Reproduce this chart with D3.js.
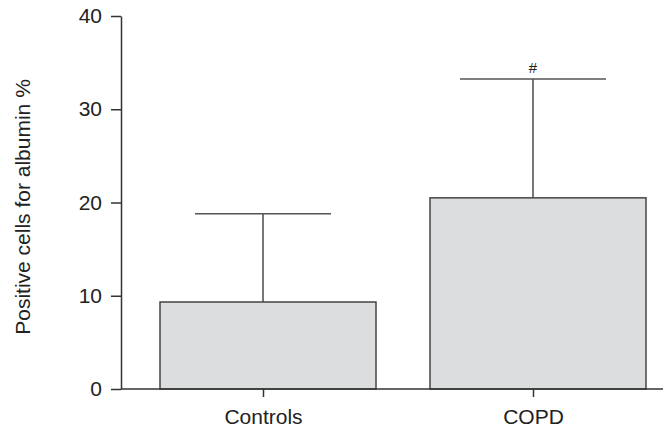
<!DOCTYPE html>
<html><head><meta charset="utf-8">
<script src="https://cdn.jsdelivr.net/npm/d3@7"></script>
<style>body{margin:0;background:#fff}svg{display:block}</style>
</head><body>
<svg id="c" width="668" height="428"></svg>
<script>
const categories = ["Controls", "COPD"];
const means = [9.33, 20.5];
const errTops = [18.8, 33.25];
const errHalfCaps = [68, 73];
const marks = ["", "#"];
const yTicks = [0, 10, 20, 30, 40];

const svg = d3.select("#c");
const font = "Liberation Sans, Arial, sans-serif";
const y = d3.scaleLinear().domain([0, 40]).range([389, 16]);
const x = d3.scalePoint().domain(categories).range([128, 668]).padding(0.5);
const axisX0 = 121, axisX1 = 663;

const g = svg.append("g");
categories.forEach((c, i) => {
  const cx = x(c);
  g.append("line").attr("x1", cx).attr("x2", cx).attr("y1", y(means[i])).attr("y2", y(errTops[i]))
    .attr("stroke", "#555").attr("stroke-width", 1.6);
  g.append("line").attr("x1", cx - errHalfCaps[i]).attr("x2", cx + errHalfCaps[i])
    .attr("y1", y(errTops[i])).attr("y2", y(errTops[i]))
    .attr("stroke", "#555").attr("stroke-width", 1.6);
  g.append("rect").attr("x", cx - 103).attr("width", 216)
    .attr("y", y(means[i])).attr("height", y(0) - y(means[i]))
    .attr("fill", "#dcdddf").attr("stroke", "#444").attr("stroke-width", 1.5);
  if (marks[i]) {
    g.append("text").attr("x", cx).attr("y", y(errTops[i]) - 6)
      .attr("text-anchor", "middle").attr("font-family", font).attr("font-size", 15)
      .attr("fill", "#222").text(marks[i]);
  }
});

const ya = svg.append("g").attr("transform", `translate(${axisX0},0)`)
  .call(d3.axisLeft(y).tickValues(yTicks).tickSize(10).tickPadding(9).tickSizeOuter(0));
ya.select(".domain").attr("stroke", "#333").attr("stroke-width", 1.5);
ya.selectAll(".tick line").attr("stroke", "#333").attr("stroke-width", 1.5);
ya.selectAll(".tick text").attr("font-family", font).attr("font-size", 21).attr("fill", "#222");

const xa = svg.append("g").attr("transform", `translate(0,${y(0)})`)
  .call(d3.axisBottom(x).tickSize(8).tickPadding(12).tickSizeOuter(0));
xa.select(".domain").attr("d", `M${axisX0},0H${axisX1}`).attr("stroke", "#333").attr("stroke-width", 1.5);
xa.selectAll(".tick line").attr("stroke", "#333").attr("stroke-width", 1.5);
xa.selectAll(".tick text").attr("font-family", font).attr("font-size", 21).attr("fill", "#222");

svg.append("text").attr("transform", "translate(30,207) rotate(-90)")
  .attr("text-anchor", "middle").attr("font-family", font).attr("font-size", 21)
  .attr("fill", "#222").text("Positive cells for albumin %");
</script>
</body></html>
